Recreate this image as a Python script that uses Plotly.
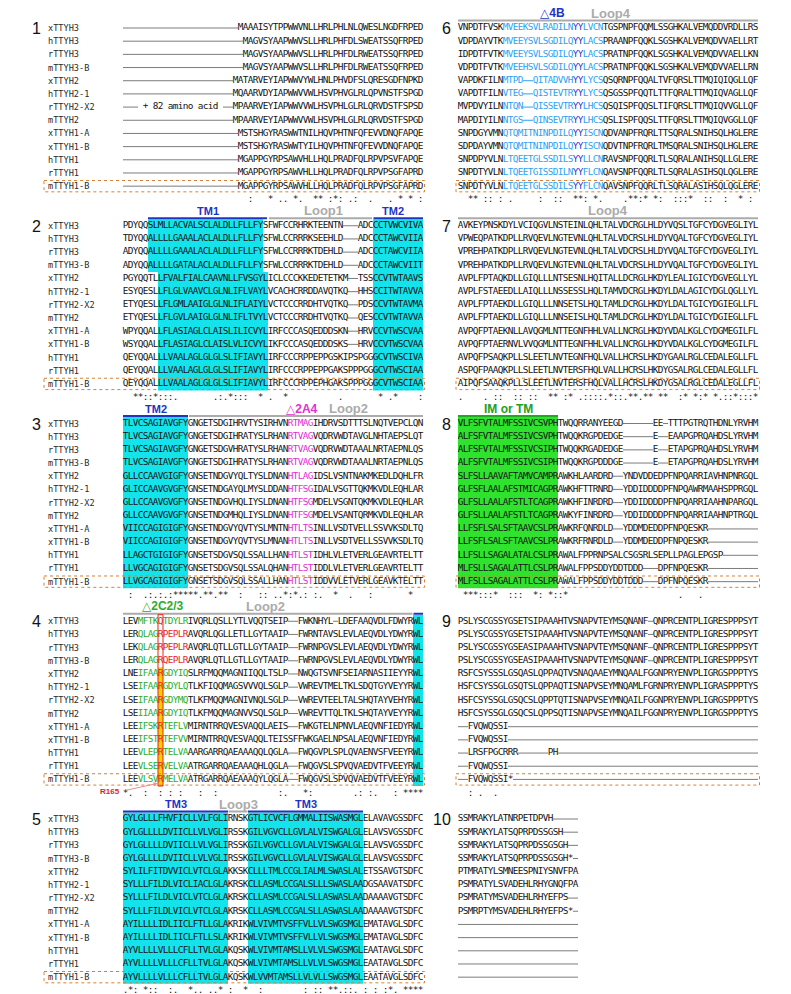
import plotly.graph_objects as go

# ---------------------------------------------------------------- data
NAMES = ["xTTYH3", "hTTYH3", "rTTYH3", "mTTYH3-B", "xTTYH2", "hTTYH2-1",
         "rTTYH2-X2", "mTTYH2", "xTTYH1-A", "xTTYH1-B", "hTTYH1", "rTTYH1", "mTTYH1-B"]

P1 = [
    "-" * 23 + "MAAAISYTPPWWVNLLHRLPHLNLQWESLNGDFRPED",
    "-" * 24 + "MAGVSYAAPWWVSLLHRLPHFDLSWEATSSQFRPED",
    "-" * 24 + "MAGVSYAAPWWVSLLHRLPHFDLRWEATSSQFRPED",
    "-" * 24 + "MAGVSYAAPWWVSLLHRLPHFDLRWEATSSQFRPED",
    "-" * 22 + "MATARVEYIAPWWVYWLHNLPHVDFSLQRESGDFNPKD",
    "-" * 22 + "MQAARVDYIAPWWVVWLHSVPHVGLRLQPVNSTFSPGD",
    "---" + " + 82 amino acid " + "--" + "MPAARVEYIAPWWVVWLHSVPHLGLRLQRVDSTFSPSD",
    "-" * 22 + "MPAARVEYIAPWWVVWLHSVPHLGLRLQRVDSTFSPGD",
    "-" * 23 + "MSTSHGYRASWWTNILHQVPHTNFQFEVVDNQFAPQE",
    "-" * 23 + "MSTSHGYRASWWTYILHQVPHTNFQFEVVDNQFAPQE",
    "-" * 23 + "MGAPPGYRPSAWVHLLHQLPRADFQLRPVPSVFAPQE",
    "-" * 23 + "MGAPPGYRPSAWVHLLHQLPRADFQLRPVPSGFAPRD",
    "-" * 23 + "MGAPPGYRPSAWVHLLHQLPRADFQLRPVPSGFAPRD",
]
P2 = [
    "PDYQQ" + "SLMLLACVALSCLALDLLFLLFY" + "SFWFCCRHRKTEENTN" + "---" + "ADC" + "CCTVWCVIVA",
    "TDYQQ" + "ALLLLGAAALACLALDLLFLLFY" + "SFWLCCRRRKSEEHLD" + "---" + "ADC" + "CCTAWCVIIA",
    "ADYQQ" + "ALLLLGAAALACLALDLLFLLFY" + "SFWLCCRRRKTDEHLD" + "---" + "ADC" + "CCTAWCVIIA",
    "ADYQQ" + "ALLLLGATALACLALDLLFLLFY" + "SFWLCCRRRKTDEHLD" + "---" + "ADC" + "CCTAWCVIIT",
    "PGYQQTL" + "LFVALFIALCAAVNLLFVSGYL" + "ICLCCCKKEDETETKM" + "--" + "TSS" + "CCVTWTAAVS",
    "ESYQESL" + "LFLGLVAAVCLGLNLIFLVAYL" + "VCACHCRRDDAVQTKQ" + "--" + "HHS" + "CCITWTAVVA",
    "ETYQESL" + "LFLGMLAAIGLGLNLIFLAIYL" + "VCTCCCRRDHTVQTKQ" + "--" + "PDS" + "CCVTWTAVMA",
    "ETYQESL" + "LFLGVLAAIGLGLNLIFLTVYL" + "VCTCCCRRDHTVQTKQ" + "--" + "QES" + "CCVTWTAVVA",
    "WPYQQAL" + "LFLASIAGLCLAISLILICVYL" + "IRFCCCASQEDDDSKN" + "--" + "HRV" + "CCVTWSCVAA",
    "WSYQQAL" + "LFLASIAGLCLAISLVLICVYL" + "IKFCCCASQEDDDSKS" + "--" + "HRV" + "CCVTWSCVAA",
    "QEYQQAL" + "LLVAALAGLGLGLSLIFIAVYL" + "IRFCCCRPPEPPGSKIPSPGG" + "GCVTWSCIVA",
    "QEYQQAL" + "LLVAALAGLGLGLSLIFIAVYL" + "IRFCCCRPPEPPGAKSPPPGG" + "GCVTWSCIAA",
    "QEYQQAL" + "LLVAALAGLGLGLSLIFIAVYL" + "IRFCCCRPPEPHGAKSPPPGG" + "GCVTWSCIAA",
]
P3 = [
    "TLVCSAGIAVGFY" + "GNGETSDGIHRVTYSIRHVN" + "RTMAG" + "IHDRVSDTTTSLNQTVEPCLQN",
    "TLVCSAGIAVGFY" + "GNGETSDGIHRATYSLRHAN" + "RTVAG" + "VQDRVWDTAVGLNHTAEPSLQT",
    "TLVCSAGIAVGFY" + "GNGETSDGVHRATYSLRHAN" + "RTVAG" + "VQDRVWDTAAALNRTAEPNLQS",
    "TLVCSAGIAVGFY" + "GNGETSDGIHRATYSLRHAN" + "RTVAG" + "VQDRVWDTAAALNRTAEPNLQS",
    "GLLCCAAVGIGFY" + "GNSETNDGVYQLTYSLDNAN" + "HTLAG" + "IDSLVSNTNAKMKEDLDQHLFR",
    "GLICCAAVGVGFY" + "GNSETNDGAYQLMYSLDDAN" + "HTFSG" + "IDALVSGTTQKMKVDLEQHLAR",
    "GLLCCAAVGVGFY" + "GNSETNDGVHQLIYSLDNAN" + "HTFSG" + "MDELVSGNTQKMKVDLEQHLAR",
    "GLLCCAAVGVGFY" + "GNSETNDGMHQLIYSLDNAN" + "HTFSG" + "MDELVSANTQRMKVDLEQHLAR",
    "VIICCAGIGIGFY" + "GNSETNDGVYQVTYSLMNTN" + "HTLTS" + "INLLVSDTVELLSSVVKSDLTQ",
    "VIICCAGIGIGFY" + "GNSETNDGVYQVTYSLMNAN" + "HTLTS" + "INLLVSDTVELLSSVVKSDLTQ",
    "LLAGCTGIGIGFY" + "GNSETSDGVSQLSSALLHAN" + "HTLST" + "IDHLVLETVERLGEAVRTELTT",
    "LLVGCAGIGIGFY" + "GNSETSDGVSQLSSALQHAN" + "HTLST" + "IDDLVLETVERLGEAVRTELTT",
    "LLVGCAGIGIGFY" + "GNSETSDGVSQLSSALLHAN" + "HTLST" + "IDDVVLETVERLGEAVKTELTT",
]
P4 = [
    "LEV" + "MFTK" + "Q" + "TDYLR" + "IVQRLQSLLYTLVQQTSEIP" + "--" + "FWKNHYL" + "-" + "LDEFAAQVDLFDWYRWL",
    "LER" + "QLAG" + "R" + "PEPLR" + "AVQRLQGLLETLLGYTAAIP" + "--" + "FWRNTAVSLEVLAEQVDLYDWYRWL",
    "LEK" + "QLAG" + "R" + "PEPLR" + "AVQRLQTLLGTLLGYTAAIP" + "--" + "FWRNPGVSLEVLAEQVDLYDWYRWL",
    "LER" + "QLAG" + "R" + "QEPLR" + "AVQRLQTLLGTLLGYTAAIP" + "--" + "FWRNPGVSLEVLAEQVDLYDWYRWL",
    "LNE" + "IFAA" + "R" + "GDYIQ" + "SLRFMQQMAGNIIQQLTSLP" + "--" + "NWQGTSVNFSEIARNASIIEYYRWL",
    "LSE" + "IFAA" + "R" + "GDYLQ" + "TLKFIQQMAGSVVVQLSGLP" + "--" + "VWREVTMELTKLSDQTGYVEYYRWL",
    "LSE" + "IFAA" + "R" + "GDYMQ" + "TLKFMQQMAGNIVNQLSGLP" + "--" + "VWREVTEELTALSHQTAYVEHYRWL",
    "LSE" + "IIAA" + "R" + "GDYIQ" + "TLKFMQQMAGNVVSQLSGLP" + "--" + "VWREVTTQLTKLSHQTAYVEYYRWL",
    "LEE" + "IFSK" + "R" + "TEFLV" + "MIRNTRRQVESVAQQLAEIS" + "--" + "FWKGTELNPNVLAEQVNFIEDYRWL",
    "LEE" + "IFST" + "R" + "TEFVV" + "MIRNTRRQVESVAQQLTEIS" + "SF" + "FWKGAELNPSALAEQVNFIEDYRWL",
    "LEE" + "VLEP" + "R" + "TELVA" + "AARGARRQAEAAAQQLQGLA" + "--" + "FWQGVPLSPLQVAENVSFVEEYRWL",
    "LEE" + "VLSE" + "R" + "VELVA" + "ATRGARRQAEAAAQHLQGLA" + "--" + "FWQGVSLSPVQVAEDVTFVEEYRWL",
    "LEE" + "VLSV" + "R" + "MELVA" + "ATRGARRQAEAAAQYLQGLA" + "--" + "FWQGVSLSPVQVAEDVTFVEEYRWL",
]
P5 = [
    "GYLGLLLFHVFICLLVLFGLI" + "RNSK" + "GTLICVCFLGMMALIISWASMGL" + "ELAVAVGSSDFC",
    "GYLGLLLLDVIICLLVLVGLI" + "RSSK" + "GILVGVCLLGVLALVISWGALGL" + "ELAVSVGSSDFC",
    "GYLGLLLLDVIICLLVLVGLI" + "RSSK" + "GILVGVCLLGVLALVISWGALGL" + "ELAVSVGSSDFC",
    "GYLGLLLLDVIICLLVLVGLI" + "RSSK" + "GILVGVCLLGVLALVISWGALGL" + "ELAVSVGSSDFC",
    "SYLILFITDVVICLVTCLGLA" + "KKSK" + "CLLLTMLCCGLIALMLSWASLAL" + "ETSSAVGTSDFC",
    "SYLLLFILDLVICLIACLGLA" + "KRSK" + "CLLASMLCCGALSLLLSWASLAA" + "DGSAAVATSDFC",
    "SYLLLFILDLVICLVTCLGLA" + "KRSK" + "CLLASMLCCGALSLLASWASLAA" + "DAAAAVGTSDFC",
    "SYLLLFILDLVICLVTCLGLA" + "KRSK" + "CLLASMLCCGALSLLASWASLAA" + "DAAAAVGTSDFC",
    "AYILLLLIDLIICLFTLLGLA" + "KRIK" + "WLVIVMTVSFFVLLVLSWGSMGL" + "EMATAVGLSDFC",
    "AYILLLLIDLIICLFTLLSLA" + "KRIK" + "WLVIVMTVSFFVLLVLSWGSMGL" + "EMATAVGLSDFC",
    "AYVLLLLVLLLCFLLTVLGLA" + "KQSK" + "WLVIVMTAMSLLVLVLSWGSMGL" + "EAATAVGLSDFC",
    "AYVLLLLVLLLCFLLTVLGLA" + "KQSK" + "WLVIVMTAMSLLVLVLSWGSMGL" + "EAATAVGLSDFC",
    "AYVLLLLVLLLCFLLTVLGLA" + "KQSK" + "WLVVMTAMSLLVLVLLSWGSMGL" + "EAATAVGLSDFC",
]
P6 = [
    "VNPDTFVSK" + "MVEEKSVLRADILNYYLVCN" + "TGSPNPFQQMLSSGHKALVEMQDDVRDLLRS",
    "VDPDAYVTK" + "MVEEYSVLSGDILQYYLACS" + "PRAANPFQQKLSGSHKALVEMQDVVAELLRT",
    "IDPDTFVTK" + "MVEEYSVLSGDILQYYLACS" + "PRATNPFQQKLSGSHKALVEMQDVVAELLKN",
    "VDPDTFVTK" + "MVEEHSVLSGDILQYYLACS" + "PRATNPFQQKLSGSHKALVEMQDVVAELLRN",
    "VAPDKFILN" + "MTPD--QITADVVHYYLYCS" + "QSQRNPFQQALTVFQRSLTTMQIQIQGLLQF",
    "VAPDTFILN" + "VTEG--QISTEVTRYYLYCS" + "QSGSSPFQQTLTTFQRALTTMQIQVAGLLQF",
    "MVPDVYILN" + "NTQN--QISSEVTRYYLHCS" + "QSQISPFQQSLTIFQRSLTTMQIQVVGLLQF",
    "MAPDIYILN" + "NTGS--QINSEVTRYYLHCS" + "QSLISPFQQSLTTFQRSLTTMQIQVGGLLQF",
    "SNPDGYVMN" + "QTQMITNINPDILQYYISCN" + "QDVANPFRQRLTTSQRALSNIHSQLHGLERE",
    "SDPDAYVMN" + "QTQMITNINPDILQYYISCN" + "QDVTNPFRQRLTMSQRALSNIHSQLHGLERE",
    "SNPDPYVLN" + "LTQEETGLSSDILSYYLLCN" + "RAVSNPFQQRLTLSQRALANIHSQLLGLERE",
    "SNPDTYVLN" + "LTQEETGISSDILNYYFLCN" + "QAVSNPFQQRLTLSQRALASIHSQLQGLERE",
    "SNPDTYVLN" + "LTQEETGLSSDILSYYFLCN" + "QAVSNPFQQRLTLSQRALASIHSQLQGLERE",
]
P7 = [
    "AVKEYPNSKDYLVCIQGVLNSTEINLQHLTALVDCRGLHLDYVQSLTGFCYDGVEGLIYL",
    "VPWEQPATKDPLLRVQEVLNGTEVNLQHLTALVDCRSLHLDYVQALTGFCYDGVEGLIYL",
    "VPREHPATKDPLLRVQEVLNGTEVNLQHLTALVDCRSLHLDYVQALTGFCYDGVEGLIYL",
    "VPREHPATKDPLLRVQEVLNGTEVNLQHLTALVDCRSLHLDYVQALTGFCYDGVEGLIYL",
    "AVPLFPTAQKDLLGIQLLLNTSESNLHQITALLDCRGLHKDYLEALIGICYDGVEGLLYL",
    "AVPLFSTAEEDLLAIQLLLNSSESSLHQLTAMVDCRGLHKDYLDALAGICYDGLQGLLYL",
    "AVPLFPTAEKDLLGIQLLLNNSETSLHQLTAMLDCRGLHKDYLDALTGICYDGIEGLLFL",
    "AVPLFPTAEKDLLGIQLLLNNSEISLHQLTAMLDCRGLHKDYLDALTGICYDGIEGLLFL",
    "AVPQFPTAEKNLLAVQGMLNTTEGNFHHLVALLNCRGLHKDYVDALKGLCYDGMEGILFL",
    "AVPQFPTAERNVLVVQGMLNTTEGNFHHLVALLNCRGLHKDYVDALKGLCYDGMEGILFL",
    "AVPQFPSAQKPLLSLEETLNVTEGNFHQLVALLHCRSLHKDYGAALRGLCEDALEGLLFL",
    "ASPQFPAAQKPLLSLEETLNVTERSFHQLVALLHCRSLHKDYGSALRGLCEDALEGLLFL",
    "AIPQFSAAQKPLLSLEETLNVTERSFHQLVALLHCRSLHKDYGSALRGLCEDALEGLLFL",
]
P8 = [
    "VLFSFVTALMFSSIVCSVPH" + "TWQQRRANYEEGD" + "------" + "EE" + "-" + "TTTPGTRQTHDNLYRVHM",
    "ALFSFVTALMFSSIVCSVPH" + "TWQQKRGPDEDGE" + "------" + "E" + "--" + "EAAPGPRQAHDSLYRVHM",
    "ALFSFVTALMFSSIVCSIPH" + "TWQQKRGADEDGE" + "------" + "E" + "--" + "ETAPGPRQAHDSLYRVHM",
    "ALFSFVTALMFSSIVCSIPH" + "TWQQKRGPDDDGE" + "------" + "E" + "--" + "ETAPGPRQAHDSLYRVHM",
    "SLFSLLAAVAFTAMVCAMPR" + "AWKHLAARDRD" + "--" + "YNDVDDEDPFNPQARRIAVHNPNRGQL",
    "GLFSFLAALAFSTMICAGPR" + "AWKHFTTRNRD" + "--" + "YDDIDDDDPFNPQAWRMAAHSPPRGQL",
    "GLFSLLAALAFSTLTCAGPR" + "AWKHFINRDRD" + "--" + "YDDIDDDDPFNPQARRIAAHNPARGQL",
    "GLFSLLAALAFSTLTCAGPR" + "AWKYFINRDRD" + "--" + "YDDIDDDDPFNPQARRIAAHNPTRGQL",
    "LLFSFLSALSFTAAVCSLPR" + "AWKRFQNRDLD" + "--" + "YDDMDEDDPFNPQESKR" + "-" * 10,
    "LLFSFLSALSFTAAVCSLPR" + "AWKRFRNRDLD" + "--" + "YDDMDEDDPFNPQESKR" + "-" * 10,
    "LLFSLLSAGALATALCSLPR" + "AWALFPPRNPSALCSGSRLSEPLLPAGLEPGSP" + "-" * 7,
    "MLFSLLSAGALATTLCSLPR" + "AWALFPPSDDYDDTDDD" + "---" + "DPFNPQESKR" + "-" * 10,
    "MLFSLLSAGALATTLCSLPR" + "AWALFPPSDDYDDTDDD" + "---" + "DPFNPQESKR" + "-" * 10,
]
P9 = [
    "PSLYSCGSSYGSETSIPAAAHTVSNAPVTEYMSQNANF-QNPRCENTPLIGRESPPPSYT",
    "PSLYSCGSSYGSETSIPAAAHTVSNAPVTEYMSQNANF-QNPRCENTPLIGRESPPPSYT",
    "PSLYSCGSSYGSEASIPAAAHTVSNAPVTEYMSQNANF-QNPRCENTPLIGRESPPPSYT",
    "PSLYSCGSSYGSEASIPAAAHTVSNAPVTEYMSQNANF-QNPRCENTPLIGRESPPPSYT",
    "RSFCSYSSSLGSQASLQPPAQTVSNAQAAEYMNQAALFGGNPRYENVPLIGRGSPPPTYS",
    "HSFCSYSSGLGSQTSLQPPAQTISNAPVSEYMNQAMLFGRNPRYENVPLIGRASPPPTYS",
    "HSFCSYSSGLGSQCSLQPPTQTISNAPVSEYMNQAILFGGNPRYENVPLIGRGSPPPTYS",
    "HSFCSYSSGLGSQCSLQPPSQTISNAPVSEYMNQAILFGGNPRYENVPLIGRGSPPPTYS",
    "--FVQWQSSI" + "-" * 50,
    "--FVQWQSSI" + "-" * 50,
    "--LRSFPGCRRR" + "-" * 6 + "PH" + "-" * 40,
    "--FVQWQSSI" + "-" * 50,
    "--FVQWQSSI*" + "-" * 49,
]
P10 = [
    "SSMRAKYLATNRPETDPVH" + "-----",
    "SSMRAKYLATSQPRPDSSGSH" + "---",
    "SSMRAKYLATSQPRPDSSGSGH" + "--",
    "SSMRAKYLATSQPRPDSSGSGH*" + "-",
    "PTMRATYLSMNEESPNIYSNVFPA",
    "PSMRATYLSVADEHLRHYGNQFPA",
    "PSMRATYMSVADEHLRHYEFPS" + "--",
    "PSMRPTYMSVADEHLRHYEFPS*" + "-",
    "-" * 24, "-" * 24, "-" * 24, "-" * 24, "-" * 24,
]

# ---------------------------------------------------------------- styles / layout
W, H = 791, 994
CW = 5.0                       # px per alignment column
RH = 13.18                     # px per row
ROW0 = [20.0, 217.75, 415.5, 613.25, 811.0]
COL0 = {"L": 115.0, "R": 450.0}

INK = "#141414"
GAP = "#7c7c7c"
CYAN = "#14e3ec"
LIME = "#2ee22e"
YELLOW = "#ffd000"
RED = "#e5231e"
GTXT = "#2aae2a"
MAG = "#e22fd2"
LBLUE = "#2f9ff2"
DBLUE = "#2b35cf"
TMBLUE = "#2233c4"
LGRAY = "#ababab"
ORANGE = "#d98035"
MONO = "DejaVu Sans Mono"
SANS = "Liberation Sans, Arial, DejaVu Sans"
SEQ_SIZE = 9.4
NAME_SIZE = 8.6

PANELS = [
    dict(num="1", seqs=P1, side="L", k=0, n=60, box=True, bg=[], fg=[], lines=[], labels=[]),
    dict(num="2", seqs=P2, side="L", k=1, n=60, box=True,
         bg=[(0, 3, 5, 27, CYAN), (4, 12, 7, 28, CYAN), (0, 12, 50, 59, CYAN)], fg=[],
         lines=[(4.5, 28.3, TMBLUE), (28.7, 49.3, LGRAY), (49.6, 59.5, TMBLUE)],
         labels=[("TM1", 16.5, TMBLUE, 11), ("Loop1", 39.5, LGRAY, 13), ("TM2", 53.5, TMBLUE, 11)]),
    dict(num="3", seqs=P3, side="L", k=2, n=60, box=True,
         bg=[(0, 12, 0, 12, CYAN)], fg=[(0, 12, 33, 37, MAG)],
         lines=[(-0.5, 12.5, TMBLUE), (12.7, 59.5, LGRAY)],
         labels=[("TM2", 6.0, TMBLUE, 11), ("△2A4", 35.3, MAG, 12), ("Loop2", 44.5, LGRAY, 13)]),
    dict(num="4", seqs=P4, side="L", k=3, n=60, box=True,
         bg=[(0, 12, 58, 59, CYAN), (4, 12, 7, 7, YELLOW)],
         fg=[(0, 12, 3, 6, GTXT), (0, 12, 8, 12, GTXT), (1, 3, 8, 12, RED), (0, 12, 7, 7, RED)],
         lines=[(-0.5, 57.4, LGRAY), (57.6, 59.5, TMBLUE)],
         labels=[("△2C2/3", 7.4, GTXT, 12), ("Loop2", 28.0, LGRAY, 13)]),
    dict(num="5", seqs=P5, side="L", k=4, n=60, box=True,
         bg=[(0, 12, 0, 20, CYAN), (0, 12, 25, 47, CYAN)], fg=[],
         lines=[(-0.5, 20.5, TMBLUE), (20.6, 24.4, LGRAY), (24.5, 47.5, TMBLUE)],
         labels=[("TM3", 10.0, TMBLUE, 11), ("Loop3", 22.5, LGRAY, 13), ("TM3", 36.0, TMBLUE, 11)]),
    dict(num="6", seqs=P6, side="R", k=0, n=60, box=True,
         bg=[], fg=[(0, 12, 9, 28, LBLUE), (0, 12, 23, 24, DBLUE)],
         lines=[(-0.5, 59.5, LGRAY)],
         labels=[("△4B", 18.3, TMBLUE, 12), ("Loop4", 30.0, LGRAY, 13)]),
    dict(num="7", seqs=P7, side="R", k=1, n=60, box=True, bg=[], fg=[],
         lines=[(-0.5, 59.5, LGRAY)], labels=[("Loop4", 29.5, LGRAY, 13)]),
    dict(num="8", seqs=P8, side="R", k=2, n=60, box=True,
         bg=[(0, 12, 0, 19, LIME)], fg=[],
         lines=[(-0.5, 19.5, "#23a823")], labels=[("IM or TM", 9.5, "#23a023", 12)]),
    dict(num="9", seqs=P9, side="R", k=3, n=60, box=True, bg=[], fg=[], lines=[], labels=[]),
    dict(num="10", seqs=P10, side="R", k=4, n=24, box=False, bg=[], fg=[], lines=[], labels=[]),
]

STRONG = ["STA", "NEQK", "NHQK", "NDEQ", "QHRK", "MILV", "MILF", "HY", "FYW"]
WEAK = ["CSA", "ATV", "SAG", "STNK", "STPA", "SGND", "SNDEQK", "NDEQHK", "NEQHRK", "FVLIM", "HFY"]


def conservation(seqs, n):
    out = []
    for c in range(n):
        col = [s[c] for s in seqs]
        if any(not (ch.isalpha() and ch.isupper()) for ch in col):
            out.append(" ")
            continue
        st = set(col)
        if len(st) == 1:
            out.append("*")
        elif any(st <= set(g) for g in STRONG):
            out.append(":")
        elif any(st <= set(g) for g in WEAK):
            out.append(".")
        else:
            out.append(" ")
    return "".join(out)


def fix(s, n):
    return s[:n] if len(s) >= n else s + " " * (n - len(s))


fig = go.Figure()
shapes = []
annos = []

for P in PANELS:
    xa = "x" if P["side"] == "L" else "x2"
    ya = "y" if P["k"] == 0 else "y%d" % (P["k"] + 1)
    n = P["n"]
    seqs = [fix(s, n) for s in P["seqs"]]

    cmap = [[None] * n for _ in seqs]
    for (r0, r1, c0, c1, col) in P["fg"]:
        for r in range(r0, r1 + 1):
            for c in range(c0, c1 + 1):
                cmap[r][c] = col

    for (r0, r1, c0, c1, col) in P["bg"]:
        shapes.append(dict(type="rect", xref=xa, yref=ya, x0=c0 - 0.5, x1=c1 + 0.5,
                           y0=r0 - 0.5, y1=r1 + 0.5, fillcolor=col, line=dict(width=0),
                           layer="below"))

    xs, ys, ts, cs = [], [], [], []
    gx, gy = {}, {}
    for r, s in enumerate(seqs):
        c = 0
        while c < n:
            ch = s[c]
            if ch == "-":
                col = cmap[r][c] or GAP
                c1 = c
                while c1 + 1 < n and s[c1 + 1] == "-" and (cmap[r][c1 + 1] or GAP) == col:
                    c1 += 1
                gx.setdefault(col, []).extend([c - 0.5, c1 + 0.5, None])
                gy.setdefault(col, []).extend([r, r, None])
                c = c1 + 1
                continue
            if ch != " ":
                xs.append(c)
                ys.append(r)
                ts.append(ch)
                cs.append(cmap[r][c] or INK)
            c += 1
    cons = conservation(seqs, n)
    for c, ch in enumerate(cons):
        if ch != " ":
            xs.append(c)
            ys.append(len(seqs) + 0.05)
            ts.append(ch)
            cs.append(INK)

    for col in gx:
        fig.add_trace(go.Scatter(x=gx[col], y=gy[col], mode="lines", xaxis=xa, yaxis=ya,
                                 line=dict(color=col, width=1), hoverinfo="skip",
                                 cliponaxis=False))
    fig.add_trace(go.Scatter(x=xs, y=ys, text=ts, mode="text", xaxis=xa, yaxis=ya,
                             textposition="middle center", cliponaxis=False,
                             textfont=dict(family=MONO, size=SEQ_SIZE, color=cs),
                             hoverinfo="skip"))

    for (x0, x1, col) in P["lines"]:
        shapes.append(dict(type="line", xref=xa, yref=ya, x0=x0, x1=x1, y0=-0.57, y1=-0.57,
                           line=dict(color=col, width=2)))
    for (txt, cx, col, sz) in P["labels"]:
        annos.append(dict(xref=xa, yref=ya, x=cx, y=-1.12, text="<b>%s</b>" % txt,
                          showarrow=False, xanchor="center", yanchor="middle",
                          font=dict(family=SANS, size=sz, color=col)))

    numx = -16.7 if P["side"] == "L" else -1.7
    annos.append(dict(xref=xa, yref=ya, x=numx, y=0.05, text=P["num"], showarrow=False,
                      xanchor="right", yanchor="middle", borderpad=0,
                      font=dict(family=SANS, size=16, color="#111111")))
    if P["side"] == "L":
        for r, nm in enumerate(NAMES):
            annos.append(dict(xref=xa, yref=ya, x=-15.7, y=r, text=nm, showarrow=False,
                              xanchor="left", yanchor="middle", borderpad=0,
                              font=dict(family=MONO, size=NAME_SIZE, color="#2a2a2a")))
    if P["box"]:
        bx0 = -16.3 if P["side"] == "L" else -0.9
        shapes.append(dict(type="rect", xref=xa, yref=ya, x0=bx0, x1=59.8, y0=12 - 0.43,
                           y1=12 + 0.43, line=dict(color=ORANGE, width=1, dash="dot"),
                           fillcolor="rgba(0,0,0,0)", layer="above"))
    if P["num"] == "4":
        shapes.append(dict(type="rect", xref=xa, yref=ya, x0=6.5, x1=7.5, y0=-0.5, y1=12.5,
                           line=dict(color=RED, width=1), fillcolor="rgba(0,0,0,0)",
                           layer="above"))
        annos.append(dict(xref=xa, yref=ya, x=-0.8, y=12.95, text="<b>R165</b>",
                          showarrow=False, xanchor="right", yanchor="middle",
                          font=dict(family=SANS, size=8, color=RED)))
        annos.append(dict(xref=xa, yref=ya, x=6.4, y=12.3, ax=-0.2, ay=12.85,
                          axref=xa, ayref=ya, text="", showarrow=True, arrowhead=2,
                          arrowsize=0.8, arrowwidth=1, arrowcolor="#f08c8c"))


def xr(side):
    x0 = COL0[side]
    return [(0 - x0) / CW - 0.5, (W - x0) / CW - 0.5]


def yr(k):
    return [(H - ROW0[k]) / RH, (0 - ROW0[k]) / RH]


lay = dict(
    width=W, height=H, margin=dict(l=0, r=0, t=0, b=0), showlegend=False,
    paper_bgcolor="white", plot_bgcolor="rgba(0,0,0,0)",
    shapes=shapes, annotations=annos,
    xaxis=dict(domain=[0, 1], range=xr("L"), visible=False, fixedrange=True),
    xaxis2=dict(range=xr("R"), visible=False, overlaying="x", anchor="y", fixedrange=True),
    yaxis=dict(domain=[0, 1], range=yr(0), visible=False, fixedrange=True),
)
for k in range(1, 5):
    lay["yaxis%d" % (k + 1)] = dict(range=yr(k), visible=False, overlaying="y", anchor="x",
                                    fixedrange=True)
fig.update_layout(**lay)
fig.write_html("out.html")
